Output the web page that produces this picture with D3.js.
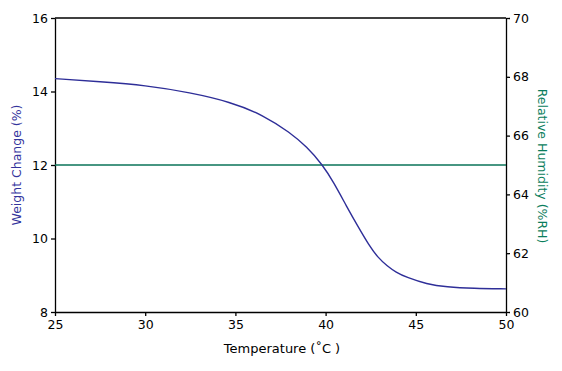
<!DOCTYPE html>
<html>
<head>
<meta charset="utf-8">
<script src="https://cdn.jsdelivr.net/npm/d3@7"></script>
<style>
  body { margin: 0; background: #fff; }
  svg text { font-family: "DejaVu Sans", sans-serif; }
</style>
</head>
<body>
<svg id="chart" width="562" height="371"></svg>
<script>
// weight change curve
const temperature = [25, 27.5, 30, 32.5, 34.7, 36.55, 38.03, 38.95, 39.84, 40.43, 41.17, 41.8, 42.4, 42.9, 43.4, 43.9, 44.5, 45.6, 46.7, 48.2, 50]
const weightChange = [14.35, 14.265, 14.17, 13.97, 13.72, 13.36, 12.88, 12.5, 12.0, 11.54, 10.87, 10.32, 9.82, 9.48, 9.26, 9.08, 8.94, 8.76, 8.68, 8.64, 8.63]
// humidity held flat
const rhTemperature = [25, 50]
const rhValues = [65, 65]

const xTicks = [25, 30, 35, 40, 45, 50]
const leftTicks = [8, 10, 12, 14, 16]
const rightTicks = [60, 62, 64, 66, 68, 70]

const width = 562, height = 371
const margin = { top: 18, right: 56, bottom: 59, left: 55 }
const svg = d3.select('#chart')

const x = d3.scaleLinear().domain([25, 50]).range([margin.left, width - margin.right])
const yLeft = d3.scaleLinear().domain([8, 16]).range([height - margin.bottom, margin.top])
const yRight = d3.scaleLinear().domain([60, 70]).range([height - margin.bottom, margin.top])

// frame top line
svg.append('line')
  .attr('x1', margin.left).attr('x2', width - margin.right)
  .attr('y1', margin.top).attr('y2', margin.top)
  .attr('stroke', '#000').attr('stroke-width', 1.3)

const styleAxis = (g) => {
  g.select('.domain').attr('stroke', '#000').attr('stroke-width', 1.3)
  g.selectAll('.tick line').attr('stroke', '#000').attr('stroke-width', 1.3)
  g.selectAll('.tick text').attr('fill', '#000').style('font-size', '12.5px')
}

svg.append('g')
  .attr('transform', `translate(0,${height - margin.bottom})`)
  .call(d3.axisBottom(x).tickValues(xTicks).tickSize(4).tickPadding(4).tickSizeOuter(0))
  .call(styleAxis)

svg.append('g')
  .attr('transform', `translate(${margin.left},0)`)
  .call(d3.axisLeft(yLeft).tickValues(leftTicks).tickSize(4).tickPadding(3).tickSizeOuter(0))
  .call(styleAxis)

svg.append('g')
  .attr('transform', `translate(${width - margin.right},0)`)
  .call(d3.axisRight(yRight).tickValues(rightTicks).tickSize(4).tickPadding(3).tickSizeOuter(0))
  .call(styleAxis)

// RH line
svg.append('path')
  .datum(rhTemperature.map((t, i) => [t, rhValues[i]]))
  .attr('fill', 'none').attr('stroke', '#0a7358').attr('stroke-width', 1.4)
  .attr('d', d3.line().x((d) => x(d[0])).y((d) => yRight(d[1])))

// weight curve
svg.append('path')
  .datum(temperature.map((t, i) => [t, weightChange[i]]))
  .attr('fill', 'none').attr('stroke', '#2e2e98').attr('stroke-width', 1.4)
  .attr('d', d3.line().curve(d3.curveBasis).x((d) => x(d[0])).y((d) => yLeft(d[1])))

// axis titles
svg.append('text')
  .attr('x', 282).attr('y', 353)
  .attr('text-anchor', 'middle').attr('fill', '#000').style('font-size', '13px')
  .text('Temperature (˚C )')

svg.append('text')
  .attr('transform', 'translate(21,165) rotate(-90)')
  .attr('text-anchor', 'middle').attr('fill', '#33339c').style('font-size', '12.5px')
  .text('Weight Change (%)')

svg.append('text')
  .attr('transform', 'translate(538,166) rotate(90)')
  .attr('text-anchor', 'middle').attr('fill', '#0a7d5c').style('font-size', '12.5px')
  .text('Relative Humidity (%RH)')
</script>
</body>
</html>
